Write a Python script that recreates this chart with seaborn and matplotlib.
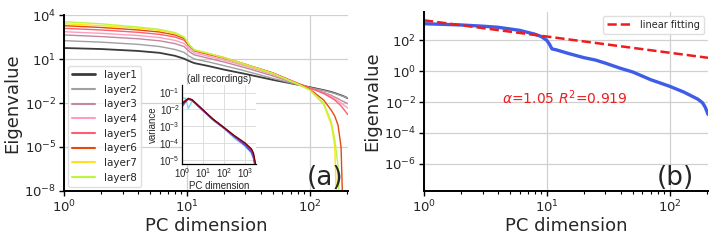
import numpy as np
import pandas as pd
import seaborn as sns
import matplotlib
matplotlib.use("Agg")
import matplotlib.pyplot as plt
from matplotlib.ticker import NullLocator, LogLocator

# ---- data (eigenvalues stored as log10 exponents) ----
pc = [1, 2, 4, 6, 8, 9.5, 10.5, 11.5, 15, 20, 30, 50, 80, 100, 130, 150, 160, 170, 180, 190, 205]

layer1 = [1.75, 1.68, 1.55, 1.42, 1.22, 1.02, 0.85, 0.72, 0.52, 0.28, -0.02, -0.42, -0.75, -0.92, -1.12, -1.25, -1.32, -1.40, -1.47, -1.55, -1.68]
layer2 = [2.25, 2.15, 2.00, 1.85, 1.65, 1.45, 1.18, 1.00, 0.80, 0.55, 0.18, -0.32, -0.75, -0.95, -1.15, -1.28, -1.35, -1.42, -1.50, -1.57, -1.65]
layer3 = [2.64, 2.53, 2.38, 2.24, 2.05, 1.85, 1.50, 1.28, 1.05, 0.80, 0.40, -0.15, -0.72, -0.98, -1.28, -1.48, -1.60, -1.70, -1.82, -1.92, -2.05]
layer4 = [2.86, 2.75, 2.60, 2.46, 2.27, 2.06, 1.68, 1.42, 1.18, 0.93, 0.52, -0.05, -0.70, -0.98, -1.35, -1.58, -1.72, -1.85, -2.00, -2.15, -2.35]
layer5 = [3.09, 2.98, 2.82, 2.68, 2.50, 2.28, 1.85, 1.55, 1.30, 1.05, 0.62, 0.05, -0.65, -0.95, -1.35, -1.65, -1.80, -2.00, -2.20, -2.45, -2.80]
layer6 = [3.27, 3.15, 2.98, 2.84, 2.64, 2.40, 1.90, 1.60, 1.35, 1.10, 0.64, 0.05, -0.68, -1.05, -1.80, -2.50, -2.90, -3.50, -5.00, -12, -12]
layer7 = [3.40, 3.28, 3.10, 2.95, 2.74, 2.48, 1.95, 1.62, 1.38, 1.10, 0.62, 0.02, -0.72, -1.12, -2.10, -3.50, -5.00, -12, -12, -12, -12]
layer8 = [3.54, 3.40, 3.18, 3.02, 2.80, 2.50, 1.95, 1.62, 1.38, 1.10, 0.62, 0.02, -0.70, -1.10, -2.00, -3.30, -4.50, -6.30, -12, -12, -12]

layer_names = ["layer1", "layer2", "layer3", "layer4", "layer5", "layer6", "layer7", "layer8"]
layer_colors = ["#3c3c3c", "#a0a0a0", "#c2889b", "#ff9dbb", "#ff5d70", "#e44a0c", "#ffe21c", "#bdf53f"]

# inset (all recordings)
ins_pc = [1, 1.5, 2, 3, 5, 10, 30, 100, 300, 1000, 2000, 2500, 3200]
rec_blue = [-1.75, -1.50, -1.35, -1.45, -1.70, -2.05, -2.60, -3.10, -3.60, -4.10, -4.50, -4.80, -5.50]
rec_purple = [-1.85, -1.55, -1.40, -1.45, -1.72, -2.07, -2.62, -3.12, -3.62, -4.15, -4.55, -4.90, -5.60]
rec_red = [-1.60, -1.45, -1.38, -1.45, -1.70, -2.05, -2.60, -3.10, -3.58, -4.05, -4.40, -4.70, -5.40]
rec_cyan = [-1.30, -1.35, -1.95, -1.50, -1.75, -2.10, -2.65, -3.15, -3.70, -4.20, -4.60, -4.90, -5.50]
rec_darkred = [-1.65, -1.50, -1.35, -1.42, -1.68, -2.03, -2.58, -3.08, -3.55, -4.00, -4.35, -4.60, -5.30]
rec_gold = [-1.70, -1.45, -1.40, -1.47, -1.70, -2.06, -2.60, -3.10, -3.60, -4.08, -4.45, -4.75, -5.40]
rec_series = [rec_cyan, rec_gold, rec_red, rec_blue, rec_purple, rec_darkred]
rec_colors = ["#7fd8f0", "#e0b020", "#e03030", "#3050e0", "#8040d0", "#800000"]

# panel (b)
pc_b = [1, 2, 3, 4, 6, 8, 9, 10, 10.5, 11, 12, 15, 20, 25, 30, 40, 50, 70, 100, 130, 150, 170, 185, 195, 205]
eig_b = [3.08, 3.00, 2.92, 2.85, 2.65, 2.40, 2.25, 2.00, 1.75, 1.45, 1.38, 1.15, 0.88, 0.72, 0.52, 0.18, -0.05, -0.55, -0.98, -1.35, -1.60, -1.82, -2.05, -2.35, -2.80]
fit_x = [1, 205]
fit_y = [3.30, 0.87]
alpha_fit = 1.05
r2_fit = 0.919

sns.set_theme(style="whitegrid")
plt.rcParams["font.family"] = ["DejaVu Sans"]

fig = plt.figure(figsize=(7.2, 2.4), dpi=100)
axa = fig.add_axes([64/720, 49/240, 284/720, 176/240])
axb = fig.add_axes([424/720, 49/240, 284/720, 179/240])


def style_axes(ax, yticks, ylim):
    ax.set_xscale("log")
    ax.set_yscale("log")
    ax.set_xlim(1, 205)
    ax.set_ylim(*ylim)
    ax.set_xticks([1, 10, 100])
    ax.xaxis.set_minor_locator(LogLocator(base=10, subs=np.arange(2, 10)))
    ax.set_yticks(yticks)
    ax.yaxis.set_minor_locator(NullLocator())
    ax.grid(True, which="major", color="#d0d0d0", linewidth=0.9)
    ax.grid(False, which="minor")
    for s in ["top", "right"]:
        ax.spines[s].set_visible(False)
    for s in ["left", "bottom"]:
        ax.spines[s].set_color("black")
        ax.spines[s].set_linewidth(1.4)
    ax.tick_params(axis="both", which="major", labelsize=9.5, length=3.5, width=1,
                   color="black", bottom=True, left=True, pad=2)
    ax.tick_params(axis="x", which="minor", length=2, width=0.8, color="black", bottom=True)
    ax.set_xlabel("PC dimension", fontsize=13, labelpad=1)
    ax.set_ylabel("Eigenvalue", fontsize=13, labelpad=2)


# ---- panel (a) ----
layers = [layer1, layer2, layer3, layer4, layer5, layer6, layer7, layer8]
rows = []
for name, vals in zip(layer_names, layers):
    for x, v in zip(pc, vals):
        rows.append({"pc": x, "eig": 10.0 ** v, "layer": name})
df = pd.DataFrame(rows)
for name, col in zip(layer_names, layer_colors):
    sns.lineplot(data=df[df.layer == name], x="pc", y="eig", color=col,
                 linewidth=1.3 if name == "layer1" else 1.0, label=name, ax=axa)
style_axes(axa, [1e-8, 1e-5, 1e-2, 1e1, 1e4], (1e-8, 1e4))
leg = axa.legend(loc="lower left", fontsize=7.5, frameon=True, borderaxespad=0.4,
                 handlelength=2.2, labelspacing=0.45, edgecolor="#d8d8d8")
for h in leg.get_lines():
    h.set_linewidth(1.5)
leg.get_lines()[0].set_linewidth(2.0)
axa.text(0.985, 0.0, "(a)", transform=axa.transAxes, ha="right", va="bottom", fontsize=19)

# inset
axi = fig.add_axes([182/720, (240-164)/240, 74/720, 79/240])
for vals, col in zip(rec_series, rec_colors):
    sns.lineplot(x=ins_pc, y=10.0 ** np.array(vals), color=col, linewidth=1.0, ax=axi)
axi.set_xscale("log")
axi.set_yscale("log")
axi.set_xlim(1, 3300)
axi.set_ylim(10 ** -5.25, 10 ** -0.55)
axi.set_xticks([1, 10, 100, 1000])
axi.set_yticks([1e-5, 1e-4, 1e-3, 1e-2, 1e-1])
axi.xaxis.set_minor_locator(NullLocator())
axi.yaxis.set_minor_locator(NullLocator())
axi.grid(True, color="#dddddd", linewidth=0.7)
axi.set_facecolor("white")
for s in ["top", "right"]:
    axi.spines[s].set_visible(False)
for s in ["left", "bottom"]:
    axi.spines[s].set_color("black")
    axi.spines[s].set_linewidth(0.9)
inset_font = ["Liberation Sans", "DejaVu Sans"]
axi.tick_params(labelsize=7, length=0, pad=1.5)
for lab in axi.get_xticklabels() + axi.get_yticklabels():
    lab.set_family(inset_font)
axi.set_xlabel("PC dimension", fontsize=7, labelpad=1, family=inset_font)
axi.set_ylabel("variance", fontsize=7, labelpad=1, family=inset_font)
axi.set_title("(all recordings)", fontsize=7, pad=2, family=inset_font)

# ---- panel (b) ----
sns.lineplot(x=pc_b, y=10.0 ** np.array(eig_b), color="#3d5ce8", linewidth=2.4, ax=axb)
sns.lineplot(x=fit_x, y=10.0 ** np.array(fit_y), color="#ee1c1c", linewidth=1.8,
             linestyle="--", dashes=(4, 2), label="linear fitting", ax=axb)
style_axes(axb, [1e-6, 1e-4, 1e-2, 1, 1e2], (10 ** -7.77, 10 ** 3.84))
axb.legend(loc="upper right", fontsize=7, frameon=True, borderaxespad=0.4,
           handlelength=2.6, edgecolor="#d8d8d8")
axb.text(0.497, 0.52, r"$\alpha$=%.2f $R^2$=%.3f" % (alpha_fit, r2_fit), color="#ee1c1c",
         transform=axb.transAxes, ha="center", va="center", fontsize=10)
axb.text(0.95, 0.0, "(b)", transform=axb.transAxes, ha="right", va="bottom", fontsize=19)

fig.savefig("out.png", dpi=100)
